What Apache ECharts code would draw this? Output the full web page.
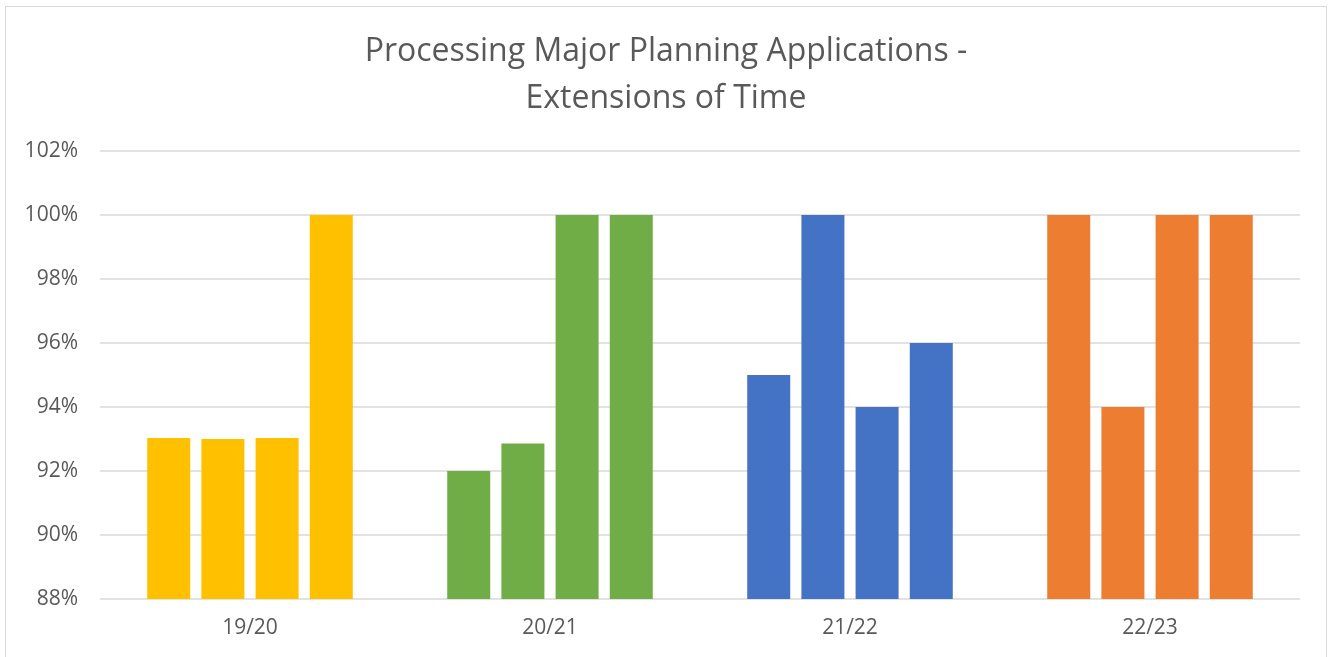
<!DOCTYPE html>
<html>
<head>
<meta charset="utf-8">
<script src="https://cdn.jsdelivr.net/npm/echarts@6/dist/echarts.min.js"></script>
<style>
  html, body { margin: 0; padding: 0; background: #fff; }
  #frame { position: absolute; left: 5px; top: 6px; width: 1322px; height: 700px; border: 1px solid #d9d9d9; box-sizing: border-box; }
  #chart { position: absolute; left: 0; top: 0; width: 1332px; height: 657px; }
</style>
</head>
<body>
<div id="frame"></div>
<div id="chart"></div>
<script>
const years = ['19/20', '20/21', '21/22', '22/23']
const yearColors = ['#FFC000', '#70AD47', '#4472C4', '#ED7D31']
// one series per quarter, values in percent
const q1 = [93.03, 92.0, 95.0, 100.0]
const q2 = [93.0, 92.86, 100.0, 94.0]
const q3 = [93.03, 100.0, 94.0, 100.0]
const q4 = [100.0, 100.0, 96.0, 100.0]
const quarters = [q1, q2, q3, q4]

const chart = echarts.init(document.getElementById('chart'))

chart.setOption({
  animation: false,
  title: {
    text: 'Processing Major Planning Applications -\nExtensions of Time',
    left: 'center',
    top: 23,
    textStyle: {
      fontFamily: 'Open Sans',
      fontWeight: 'normal',
      fontSize: 32,
      lineHeight: 47,
      color: '#595959',
    },
  },
  grid: { left: 100, right: 32, top: 151, bottom: 58 },
  xAxis: {
    type: 'category',
    data: years,
    axisLine: { show: false },
    axisTick: { show: false },
    axisLabel: { color: '#595959', fontSize: 21, fontFamily: 'Open Sans', margin: 19 },
  },
  yAxis: {
    type: 'value',
    min: 88,
    max: 102,
    interval: 2,
    axisLine: { show: false },
    axisTick: { show: false },
    axisLabel: { color: '#595959', fontSize: 21, fontFamily: 'Open Sans', margin: 22, formatter: '{value}%' },
    splitLine: { lineStyle: { color: '#d9d9d9', width: 1.5 } },
  },
  series: quarters.map((vals, qi) => ({
    type: 'bar',
    name: 'Q' + (qi + 1),
    barWidth: 43,
    barGap: '26%',
    data: vals.map((v, i) => ({ value: v, itemStyle: { color: yearColors[i] } })),
  })),
})
</script>
</body>
</html>
